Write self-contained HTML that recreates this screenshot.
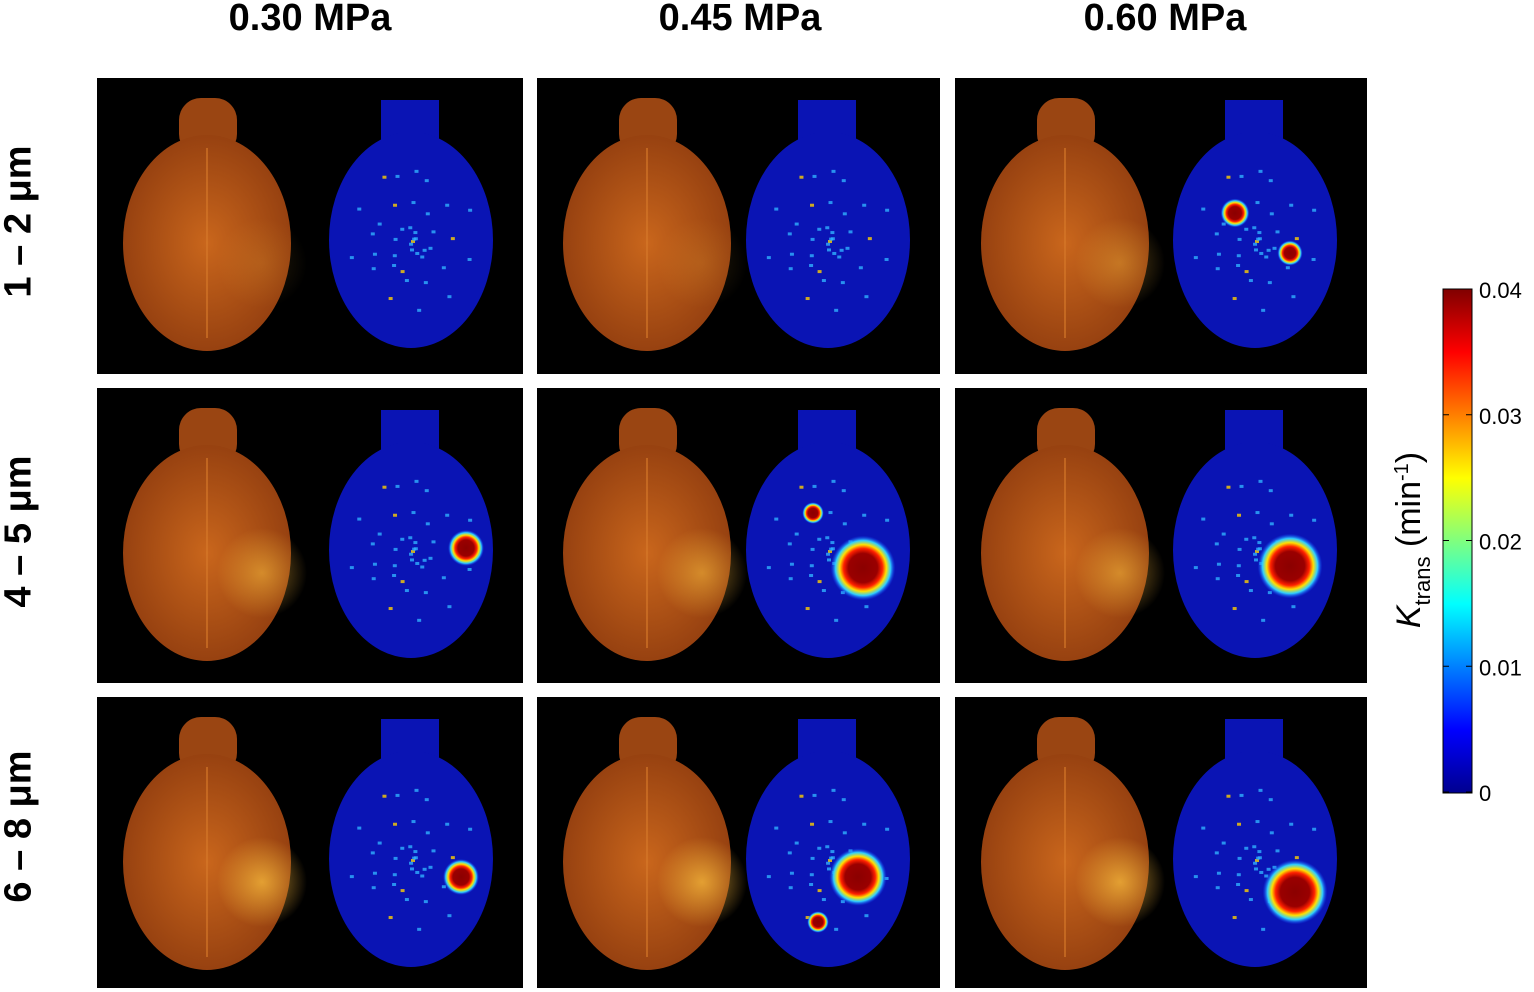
<!DOCTYPE html>
<html><head><meta charset="utf-8"><style>
body{margin:0;background:#fff;width:1534px;height:992px;overflow:hidden;font-family:"Liberation Sans",sans-serif;position:relative}
.h{position:absolute;top:-3px;font-weight:bold;font-size:38px;text-align:center;width:300px}
.rl{position:absolute;font-weight:bold;font-size:38px;transform:rotate(-90deg);transform-origin:center;width:260px;text-align:center}
</style></head><body>
<div class="h" style="left:160px">0.30 MPa</div>
<div class="h" style="left:590px">0.45 MPa</div>
<div class="h" style="left:1015px">0.60 MPa</div>
<div class="rl" style="left:-111px;top:200px">1 – 2 μm</div>
<div class="rl" style="left:-111px;top:510px">4 – 5 μm</div>
<div class="rl" style="left:-111px;top:805px">6 – 8 μm</div>
<svg id="s" width="1534" height="992" style="position:absolute;left:0;top:0">
<defs>
<radialGradient id="og" cx="0.5" cy="0.5" r="0.6"><stop offset="0" stop-color="#c9661c"/><stop offset="1" stop-color="#8d3a0e"/></radialGradient>
<radialGradient id="glow"><stop offset="0" stop-color="#f2b43a"/><stop offset="1" stop-color="#f2b43a" stop-opacity="0"/></radialGradient>
<radialGradient id="hot"><stop offset="0" stop-color="#8b0000"/><stop offset="0.45" stop-color="#9a0000"/><stop offset="0.6" stop-color="#ff2000"/><stop offset="0.72" stop-color="#ffe000"/><stop offset="0.85" stop-color="#30d0ff"/><stop offset="1" stop-color="#1040ff" stop-opacity="0"/></radialGradient>
<linearGradient id="cb" x1="0" y1="1" x2="0" y2="0"><stop offset="0" stop-color="#00008f"/><stop offset="0.125" stop-color="#0000ff"/><stop offset="0.375" stop-color="#00ffff"/><stop offset="0.625" stop-color="#ffff00"/><stop offset="0.875" stop-color="#ff0000"/><stop offset="1" stop-color="#800000"/></linearGradient>
</defs>
</svg>
<script>
const colX=[97,537,955], colW=[426,403,412];
const rowY=[78,388,697], rowH=[296,295,291];
// hotspots: [row, col, x, y, radius] in panel coords
const hotRow=[0,0,1,1,1,1,2,2,2,2];
const hotCol=[2,2,0,1,1,2,0,1,1,2];
const hotX=[290,345,365,345,295,345,360,340,300,350];
const hotY=[135,175,160,180,125,178,180,180,225,195];
const hotR=[8,7,10,18,6,18,10,16,6,18];
const cbTicks=["0","0.01","0.02","0.03","0.04"];
const NS="http://www.w3.org/2000/svg", s=document.getElementById('s');
function mk(t,a,p){const e=document.createElementNS(NS,t);for(const k in a)e.setAttribute(k,a[k]);(p||s).appendChild(e);return e;}
for(let r=0;r<3;r++)for(let c=0;c<3;c++){
 const g=mk('g',{transform:`translate(${colX[c]},${rowY[r]})`});
 
 
 mk('rect',{x:0,y:0,width:colW[c],height:rowH[r],fill:'#000'},g);
 mk('rect',{x:82,y:20,width:58,height:58,rx:22,fill:'#9a4512'},g);
 mk('ellipse',{cx:110,cy:165,rx:84,ry:108,fill:'url(#og)'},g);
 const glow=r>0||c==2?1:0.4;
 mk('ellipse',{cx:165,cy:185,rx:45,ry:45,fill:'url(#glow)',opacity:glow*(0.4+0.2*r)},g);
 mk('line',{x1:110,y1:70,x2:110,y2:260,stroke:'#d87a2a','stroke-width':2,opacity:0.6},g);
 const bx=colW[c]-112;
 mk('rect',{x:bx-30,y:22,width:58,height:60,fill:'#0a14b4'},g);
 mk('ellipse',{cx:bx,cy:162,rx:82,ry:108,fill:'#0a14b4'},g);
 for(let i=0;i<40;i++){const a=(i*2.39)%6.28,d=((i*37)%90)/100;
  mk('rect',{x:bx+Math.cos(a)*70*d,y:162+Math.sin(a)*95*d,width:4,height:3,fill:i%7==0?'#ffd000':'#30b0ff',opacity:0.8},g);}
 for(let i=0;i<hotX.length;i++)if(hotRow[i]==r&&hotCol[i]==c){
  mk('circle',{cx:hotX[i]+(bx-310),cy:hotY[i],r:hotR[i]*1.8,fill:'url(#hot)'},g);}
}
const cb=mk('rect',{x:1443,y:289,width:29,height:504,fill:'url(#cb)',stroke:'#000','stroke-width':1});


for(let i=0;i<cbTicks.length;i++){const y=792-i*125.75;
 const t=mk('text',{x:1479,y:y+9,'font-size':22,fill:'#000','font-family':'Liberation Sans'});
 t.textContent=cbTicks[i];
 
 
 mk('line',{x1:1443,y1:y,x2:1449,y2:y,stroke:'#000'});mk('line',{x1:1466,y1:y,x2:1472,y2:y,stroke:'#000'});}
const lab=mk('text',{transform:'translate(1420,540) rotate(-90)','text-anchor':'middle','font-size':34,fill:'#000','font-family':'Liberation Sans'});


lab.innerHTML='<tspan font-style="italic">K</tspan><tspan font-size="22" dy="10">trans</tspan><tspan dy="-10"> (min</tspan><tspan font-size="20" dy="-12">-1</tspan><tspan dy="12">)</tspan>';
</script>
</body></html>
